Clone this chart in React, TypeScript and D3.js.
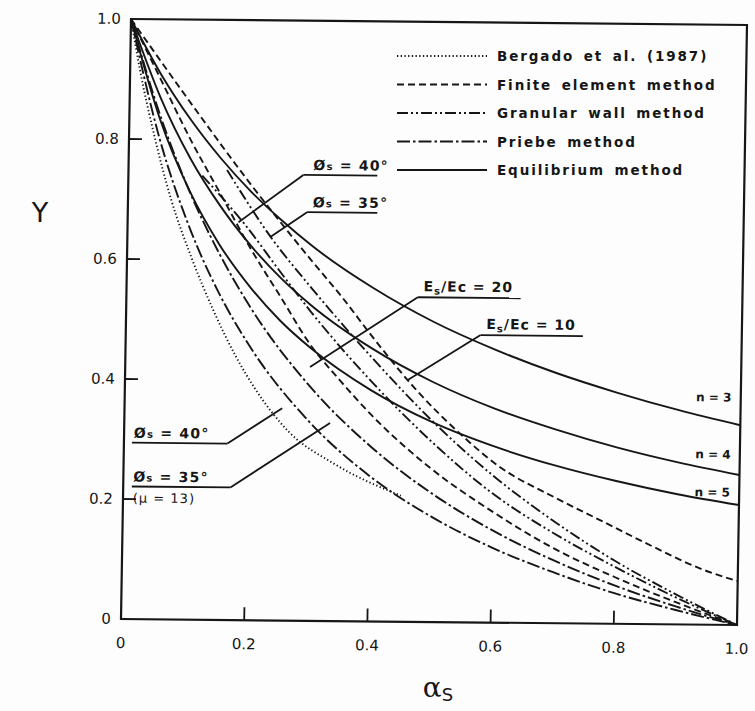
import React from "react";
import * as d3 from "d3";

type P = [number, number];

// ---- data (area replacement ratio a_s, settlement ratio Y) ----
const bergado1987: P[] = [[0, 1], [0.015, 0.92], [0.04, 0.81], [0.07, 0.7], [0.104, 0.605], [0.142, 0.515], [0.179, 0.44], [0.212, 0.385], [0.267, 0.315], [0.342, 0.262], [0.451, 0.21]];
const femEs10: P[] = [[0, 1], [0.1, 0.86], [0.2, 0.725], [0.3, 0.6], [0.35, 0.54], [0.4, 0.475], [0.47, 0.39], [0.55, 0.31], [0.61, 0.26], [0.7, 0.21], [0.78, 0.17], [0.86, 0.13], [0.94, 0.093], [1, 0.073]];
const femEs20: P[] = [[0, 1], [0.05, 0.9], [0.1, 0.8], [0.15, 0.71], [0.2, 0.62], [0.25, 0.54], [0.3, 0.46], [0.35, 0.4], [0.4, 0.345], [0.5, 0.255], [0.6, 0.185], [0.7, 0.125], [0.8, 0.078], [0.9, 0.037], [1, 0]];
const granular40: P[] = [[0.12, 0.74], [0.19, 0.66], [0.25, 0.58], [0.3, 0.515], [0.4, 0.4], [0.5, 0.3], [0.6, 0.215], [0.7, 0.15], [0.8, 0.095], [0.9, 0.045], [1, 0]];
const granular35: P[] = [[0.16, 0.75], [0.232, 0.64], [0.3, 0.555], [0.4, 0.44], [0.5, 0.335], [0.6, 0.245], [0.7, 0.17], [0.8, 0.105], [0.9, 0.05], [1, 0]];
const priebe40: P[] = [[0, 1], [0.05, 0.8], [0.1, 0.655], [0.15, 0.545], [0.2, 0.459], [0.3, 0.332], [0.4, 0.242], [0.5, 0.176], [0.6, 0.125], [0.7, 0.085], [0.8, 0.051], [0.9, 0.024], [1, 0]];
const priebe35: P[] = [[0, 1], [0.05, 0.84], [0.1, 0.713], [0.15, 0.61], [0.2, 0.524], [0.3, 0.391], [0.4, 0.292], [0.5, 0.215], [0.6, 0.154], [0.7, 0.105], [0.8, 0.064], [0.9, 0.03], [1, 0]];
const equilN3: P[] = [[0, 1], [0.05, 0.909], [0.1, 0.833], [0.15, 0.769], [0.2, 0.714], [0.25, 0.667], [0.3, 0.625], [0.4, 0.556], [0.5, 0.5], [0.6, 0.455], [0.7, 0.417], [0.8, 0.385], [0.9, 0.357], [1, 0.333]];
const equilN4: P[] = [[0, 1], [0.05, 0.87], [0.1, 0.769], [0.15, 0.69], [0.2, 0.625], [0.25, 0.571], [0.3, 0.526], [0.4, 0.455], [0.5, 0.4], [0.6, 0.357], [0.7, 0.323], [0.8, 0.294], [0.9, 0.27], [1, 0.25]];
const equilN5: P[] = [[0, 1], [0.05, 0.833], [0.1, 0.714], [0.15, 0.625], [0.2, 0.556], [0.25, 0.5], [0.3, 0.455], [0.4, 0.385], [0.5, 0.333], [0.6, 0.294], [0.7, 0.263], [0.8, 0.238], [0.9, 0.217], [1, 0.2]];

const xTicks = [0, 0.2, 0.4, 0.6, 0.8, 1.0];
const xTickLabels = ["0", "0.2", "0.4", "0.6", "0.8", "1.0"];
const yTicks = [0, 0.2, 0.4, 0.6, 0.8, 1.0];
const yTickLabels = ["0", "0.2", "0.4", "0.6", "0.8", "1.0"];

const legendLabels = ["Bergado  et  al. (1987)", "Finite  element  method", "Granular wall  method", "Priebe  method", "Equilibrium  method"];
const nLabels = ["n = 3", "n = 4", "n = 5"];

const DOT = "1.3,2.4";
const DASH = "7,4";
const GRAN = "11,3,2,3,2,3";
const PRIEBE = "13,3,2.5,3";

const W = 615, H = 600;
const INK = "#161616";

export default function App() {
  const x = d3.scaleLinear().domain([0, 1]).range([0, W]);
  const y = d3.scaleLinear().domain([0, 1]).range([H, 0]);
  const line = d3.line<P>().x(d => x(d[0])).y(d => y(d[1])).curve(d3.curveMonotoneX);

  const series = [
    { d: bergado1987, dash: DOT },
    { d: femEs10, dash: DASH },
    { d: femEs20, dash: DASH },
    { d: granular40, dash: GRAN },
    { d: granular35, dash: GRAN },
    { d: priebe40, dash: PRIEBE },
    { d: priebe35, dash: PRIEBE },
    { d: equilN3, dash: "" },
    { d: equilN4, dash: "" },
    { d: equilN5, dash: "" },
  ];

  const legendDash = [DOT, DASH, GRAN, PRIEBE, ""];

  const fontLbl = "'DejaVu Sans', sans-serif";

  const annots = [
    { a0: 0.284, a1: 0.404, yv: 0.743, from: "left", ta: 0.18, ty: 0.663, tx: 0.3, sub: "s", main: "Ø", rest: " = 40°" },
    { a0: 0.291, a1: 0.405, yv: 0.681, from: "left", ta: 0.232, ty: 0.639, tx: 0.3, sub: "s", main: "Ø", rest: " = 35°" },
    { a0: 0.013, a1: 0.168, yv: 0.294, from: "right", ta: 0.256, ty: 0.354, tx: 0.016, sub: "s", main: "Ø", rest: " = 40°" },
    { a0: 0.014, a1: 0.174, yv: 0.221, from: "right", ta: 0.334, ty: 0.33, tx: 0.016, sub: "s", main: "Ø", rest: " = 35°" },
  ];
  const esAnnots = [
    { a0: 0.473, a1: 0.64, yv: 0.541, ta: 0.3, ty: 0.423, tx: 0.482, val: "20" },
    { a0: 0.576, a1: 0.742, yv: 0.479, ta: 0.459, ty: 0.403, tx: 0.585, val: "10" },
  ];
  const nPos = [0.372, 0.277, 0.214];

  return (
    <svg width={755} height={711} style={{ position: "absolute", left: 0, top: 0, background: "#fff" }}>
      <rect width={755} height={711} fill="#fdfdfd" />
      <text x={40} y={222} fontFamily="'DejaVu Sans', sans-serif" fontSize={27} fill={INK} textAnchor="middle">Y</text>
      <text x={438} y={697} fontFamily="'DejaVu Serif', serif" fontSize={28} fill={INK} textAnchor="middle">
        α<tspan fontSize={18} dy={4} fontFamily="'DejaVu Sans', sans-serif">S</tspan>
      </text>

      <g transform="matrix(1.0016,0.00976,-0.01667,1,131,19)">
        <rect x={0} y={0} width={W} height={H} fill="none" stroke={INK} strokeWidth={2.2} />
        {xTicks.slice(1, 5).map(t => (
          <line key={"xt" + t} x1={x(t)} x2={x(t)} y1={H} y2={H - 13} stroke={INK} strokeWidth={1.8} />
        ))}
        {yTicks.slice(1, 5).map(t => (
          <line key={"yt" + t} x1={0} x2={13} y1={y(t)} y2={y(t)} stroke={INK} strokeWidth={1.8} />
        ))}
        {xTicks.map((t, i) => (
          <text key={"xl" + t} x={x(t)} y={H + 29} fontFamily={fontLbl} fontSize={15} fill={INK} textAnchor="middle">{xTickLabels[i]}</text>
        ))}
        {yTicks.map((t, i) => (
          <text key={"yl" + t} x={-10} y={y(t) + 5} fontFamily={fontLbl} fontSize={15} fill={INK} textAnchor="end">{yTickLabels[i]}</text>
        ))}

        {series.map((s, i) => (
          <path key={i} d={line(s.d) || ""} fill="none" stroke={INK} strokeWidth={1.9} strokeDasharray={s.dash || undefined} />
        ))}

        {annots.map((a, i) => {
          const lx = a.from === "left" ? x(a.a0) : x(a.a1);
          return (
            <g key={"an" + i}>
              <line x1={x(a.a0)} x2={x(a.a1)} y1={y(a.yv)} y2={y(a.yv)} stroke={INK} strokeWidth={1.8} />
              <line x1={lx} y1={y(a.yv)} x2={x(a.ta)} y2={y(a.ty)} stroke={INK} strokeWidth={1.8} />
              <text x={x(a.tx)} y={y(a.yv) - 5} fontFamily={fontLbl} fontSize={14} fontWeight="bold" fill={INK} letterSpacing={1.2}>
                {a.main}<tspan fontSize={10}>{a.sub}</tspan>{a.rest}
              </text>
            </g>
          );
        })}
        <text x={x(0.016)} y={y(0.221) + 16} fontFamily={fontLbl} fontSize={13} fill={INK} letterSpacing={1}>(μ = 13)</text>

        {esAnnots.map((a, i) => (
          <g key={"es" + i}>
            <line x1={x(a.a0)} x2={x(a.a1)} y1={y(a.yv)} y2={y(a.yv)} stroke={INK} strokeWidth={1.8} />
            <line x1={x(a.a0)} y1={y(a.yv)} x2={x(a.ta)} y2={y(a.ty)} stroke={INK} strokeWidth={1.8} />
            <text x={x(a.tx)} y={y(a.yv) - 6} fontFamily={fontLbl} fontSize={14} fontWeight="bold" fill={INK} letterSpacing={1}>
              E<tspan fontSize={10} dy={3}>s</tspan><tspan dy={-3}>/Ec = {a.val}</tspan>
            </text>
          </g>
        ))}

        {nLabels.map((t, i) => (
          <text key={t} x={x(0.985)} y={y(nPos[i])} fontFamily={fontLbl} fontSize={12} fontWeight="bold" fill={INK} textAnchor="end">{t}</text>
        ))}
      </g>

      {legendLabels.map((t, i) => {
        const ly = 56 + i * 28.5;
        return (
          <g key={t}>
            <line x1={397} x2={487} y1={ly} y2={ly} stroke={INK} strokeWidth={2} strokeDasharray={legendDash[i] || undefined} />
            <text x={497} y={ly + 5} fontFamily={fontLbl} fontSize={13.5} fontWeight="bold" fill={INK} letterSpacing={1.9} wordSpacing={3}>{t}</text>
          </g>
        );
      })}
    </svg>
  );
}
